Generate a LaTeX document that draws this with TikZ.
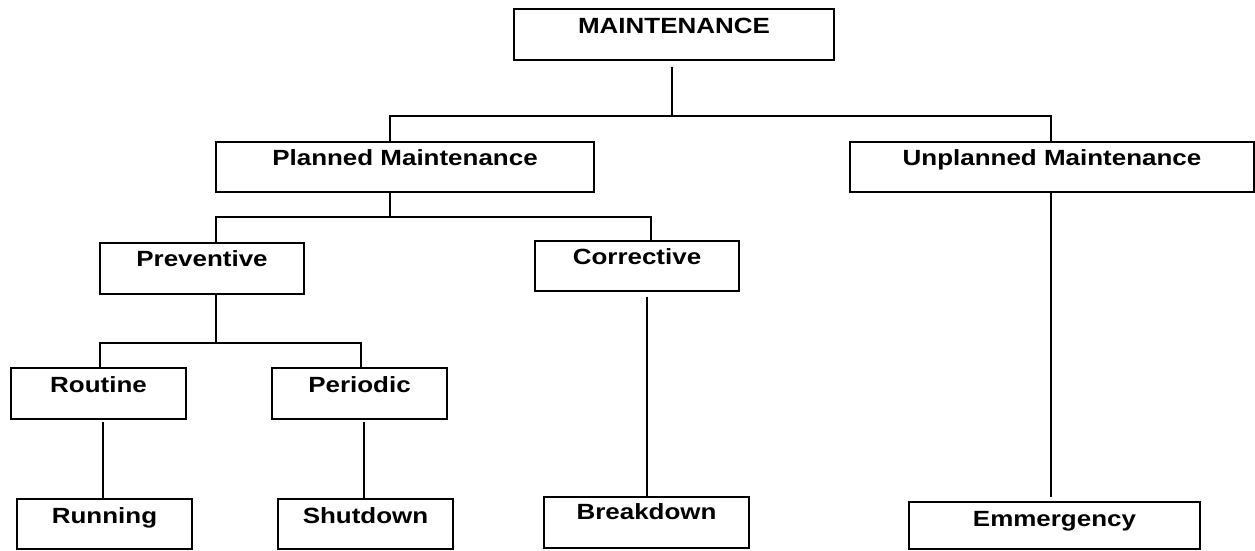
\documentclass[tikz,border=0pt]{standalone}
\usepackage{fontspec}
\setmainfont{Liberation Sans}[FakeStretch=1.18]
\begin{document}
\begin{tikzpicture}[x=1pt,y=-1pt,
  box/.style={draw, line width=1.4pt, rectangle, inner xsep=0pt, inner ysep=0pt,
    font=\fontsize{22}{26}\selectfont\bfseries, text height=24pt, text depth=27pt},
  conn/.style={line width=1.4pt}]
\useasboundingbox (0,0) rectangle (1255,550);
% boxes
\node[box, minimum width=320pt] (m) at (674,34.5) {MAINTENANCE};
\node[box, minimum width=378pt, text height=23pt, text depth=27pt] (pm) at (405,167) {Planned Maintenance};
\node[box, minimum width=404pt, text height=23pt, text depth=27pt] (um) at (1052,167) {Unplanned Maintenance};
\node[box, minimum width=204pt, text height=23pt, text depth=28pt] (pv) at (202,268.5) {Preventive};
\node[box, minimum width=204pt, text height=23pt, text depth=27pt] (co) at (637,266) {Corrective};
\node[box, minimum width=175pt] (ro) at (98.5,393.5) {Routine};
\node[box, minimum width=175pt] (pe) at (359.5,393.5) {Periodic};
\node[box, minimum width=175pt, text depth=26pt] (rn) at (104.5,524) {Running};
\node[box, minimum width=175pt, text depth=26pt] (sd) at (365.5,524) {Shutdown};
\node[box, minimum width=205pt, text height=22pt, text depth=29pt] (bd) at (646.5,522.5) {Breakdown};
\node[box, minimum width=291pt, text depth=23pt] (em) at (1054.5,525.5) {Emmergency};
% junctions
\coordinate (j0) at (672,116);
\coordinate (j1) at (390,217);
\coordinate (j2) at (216,343);
% connectors
\draw[conn] (m.south -| j0) ++(0,6) -- (j0);
\draw[conn] ([xshift=-15pt]pm.north) |- (j0) -| ([xshift=-1pt]um.north);
\draw[conn] ([xshift=-15pt]pm.south) -- (j1);
\draw[conn] ([xshift=14pt]pv.north) |- (j1) -| ([xshift=14pt]co.north);
\draw[conn] ([xshift=14pt]pv.south) -- (j2);
\draw[conn] ([xshift=1.5pt]ro.north) |- (j2) -| ([xshift=1.5pt]pe.north);
\draw[conn] ([xshift=4.5pt,yshift=-2pt]ro.south) -- ([xshift=-1.5pt]rn.north);
\draw[conn] ([xshift=4.5pt,yshift=-2pt]pe.south) -- ([xshift=-1.5pt]sd.north);
\draw[conn] ([xshift=10pt,yshift=-5pt]co.south) -- ([xshift=0.5pt]bd.north);
\draw[conn] ([xshift=-1pt]um.south) -- ([xshift=-3.5pt,yshift=4pt]em.north);
\end{tikzpicture}
\end{document}
